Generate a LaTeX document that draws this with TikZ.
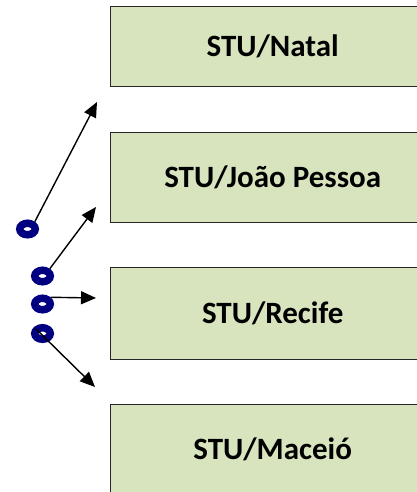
\documentclass[tikz,border=0pt]{standalone}
\usepackage{fontspec}
\setmainfont{Carlito}
\usetikzlibrary{arrows.meta,shapes.geometric}
\definecolor{boxgreen}{HTML}{D7E4BD}
\definecolor{ringblue}{HTML}{000080}
\begin{document}
\begin{tikzpicture}[x=1pt,y=-1pt,
  stubox/.style={draw=black!85, line width=1.4pt, fill=boxgreen, minimum width=324pt, inner sep=0pt,
    font=\fontsize{31}{36}\selectfont\bfseries, anchor=north west},
  ring/.style={ellipse, draw=ringblue, fill=white, line width=7.5pt, minimum width=15.5pt, minimum height=11.5pt, inner sep=0pt},
  arr/.style={-{Triangle[length=15pt,width=13pt]}, line width=1.4pt, black}]
\useasboundingbox (0,0) rectangle (417,492);
\clip (0,0) rectangle (417,492);
\node[stubox, minimum height=80pt] (natal) at (110,6) {STU/Natal};
\node[stubox, minimum height=90pt] (joao) at (110,132) {STU/João Pessoa};
\node[stubox, minimum height=92pt] (recife) at (110,267) {STU/Recife};
\node[stubox, minimum height=90pt] (maceio) at (110,404) {STU/Maceió};
\node[ring] (c1) at (27.5,229) {};
\node[ring] (c2) at (42.5,276) {};
\node[ring] (c3) at (42.5,304) {};
\node[ring] (c4) at (42.5,333.5) {};
\coordinate (t1) at (97,102);
\coordinate (t2) at (96,207);
\coordinate (t3) at (96,298);
\coordinate (t4) at (95,387);
\draw[arr] (c1.45) -- (t1);
\draw[arr] (c2.45) -- (t2);
\draw[arr] (c3.north east) -- (t3);
\draw[arr] ([shift={(-7,-5)}]c4.center) -- (t4);
\end{tikzpicture}
\end{document}
